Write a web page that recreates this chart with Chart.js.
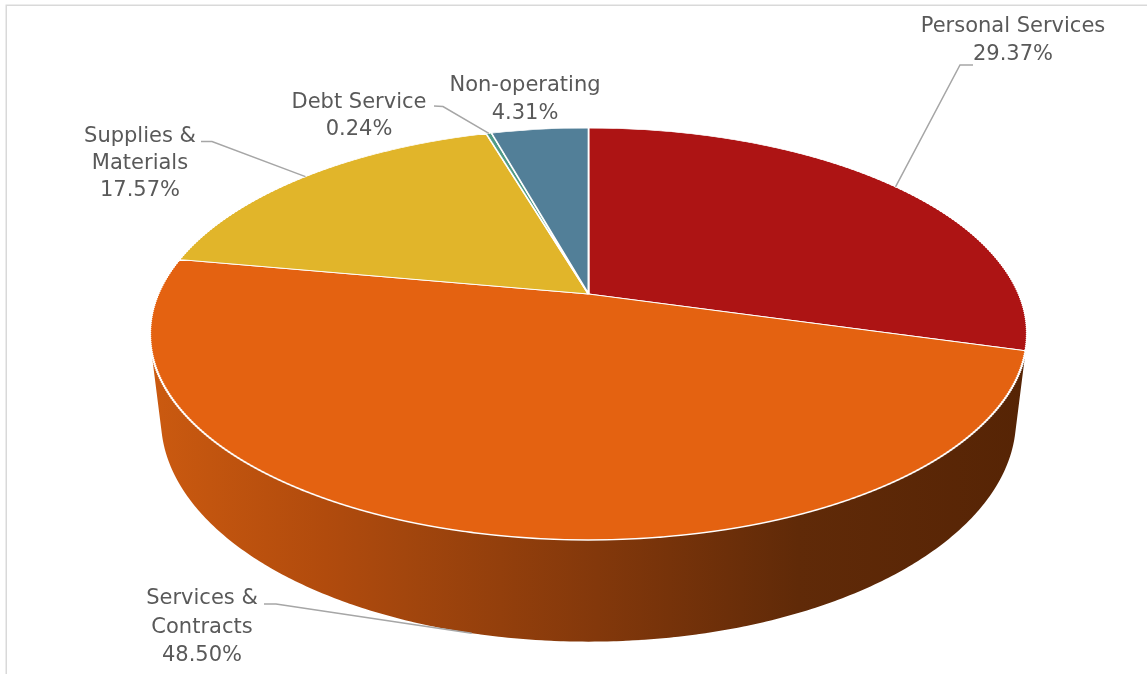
<!DOCTYPE html>
<html>
<head>
<meta charset="utf-8">
<script src="https://cdn.jsdelivr.net/npm/chart.js@4.4.0/dist/chart.umd.min.js"></script>
<style>
  html, body { margin: 0; padding: 0; background: #ffffff; overflow: hidden; }
  canvas { display: block; }
</style>
</head>
<body>
<canvas id="budget" width="1147" height="674"></canvas>
<script>
// Expenditure categories (multi-line labels) and their shares in percent
const categories = [
  ['Personal Services'],
  ['Services &', 'Contracts'],
  ['Supplies &', 'Materials'],
  ['Debt Service'],
  ['Non-operating']
];
const shares = [29.37, 48.50, 17.57, 0.24, 4.31];
const sliceColors = ['#ad1414', '#e46211', '#e1b52a', '#4f9a86', '#527f98'];

// Tilted-disc view: screen y = (alpha*t + beta) / (1 + gamma*t), x scaled by 1/(1 + gamma*t)
const VIEW = { cx: 588.5, alpha: 141.15, beta: 294, gamma: -0.194, k: 430.2, depth: 82, baseShrink: 0.975 };
const PIE_RADIUS = 430;

// Label placement: centre x, first baseline, line height, leader stub
const labelLayout = [
  { x: 1013, y: 32,  lh: 28,   stub: [973, 65, 960, 65] },
  { x: 202,  y: 604, lh: 28.5, stub: [264, 604, 276, 604], onSide: true },
  { x: 140,  y: 142, lh: 27,   stub: [201, 141.5, 212, 141.5] },
  { x: 359,  y: 108, lh: 27,   stub: [434, 106, 443, 106.5] },
  { x: 525,  y: 91,  lh: 27.5, stub: null }
];

function project(s, t, h) {
  const den = 1 + VIEW.gamma * t;
  const shrink = h > 0 ? 1 - (1 - VIEW.baseShrink) * (h / VIEW.depth) : 1;
  return {
    x: VIEW.cx + shrink * VIEW.k * s / den,
    y: (VIEW.alpha * t + VIEW.beta) / den + h / den
  };
}

const tiltedPie = {
  id: 'tiltedPie',
  beforeDraw(chart) {
    const ctx = chart.ctx;
    ctx.save();
    ctx.strokeStyle = '#d9d9d9';
    ctx.lineWidth = 1.5;
    ctx.strokeRect(6.25, 5.25, 1300, 800);
    ctx.restore();
  },
  beforeDatasetsDraw(chart) {
    const ctx = chart.ctx;
    const meta = chart.getDatasetMeta(0);
    const dpr = chart.currentDevicePixelRatio || 1;

    // Cylinder wall under the visible front of each slice
    const grad = ctx.createLinearGradient(150, 0, 1027, 0);
    grad.addColorStop(0, '#cb5a10');
    grad.addColorStop(0.2, '#b14b0d');
    grad.addColorStop(0.29, '#a3460d');
    grad.addColorStop(0.51, '#83380b');
    grad.addColorStop(0.74, '#602a08');
    grad.addColorStop(1, '#562405');
    ctx.save();
    ctx.fillStyle = grad;
    ctx.beginPath();
    meta.data.forEach(arc => {
      const lo = Math.max(arc.startAngle, -0.4);
      const hi = Math.min(arc.endAngle, Math.PI + 0.4);
      if (hi <= lo) return;
      const step = 0.006;
      for (let a0 = lo; a0 < hi; a0 += step) {
        const a1 = Math.min(hi, a0 + step * 2);
        const quad = [
          project(Math.cos(a0), Math.sin(a0), 0),
          project(Math.cos(a1), Math.sin(a1), 0),
          project(Math.cos(a1), Math.sin(a1), VIEW.depth),
          project(Math.cos(a0), Math.sin(a0), VIEW.depth)
        ];
        // keep every quad wound the same way so the union has no holes
        let area = 0;
        for (let i = 0; i < 4; i++) {
          const p = quad[i], q = quad[(i + 1) % 4];
          area += p.x * q.y - q.x * p.y;
        }
        if (area < 0) quad.reverse();
        ctx.moveTo(quad[0].x, quad[0].y);
        for (let i = 1; i < 4; i++) ctx.lineTo(quad[i].x, quad[i].y);
        ctx.closePath();
      }
    });
    ctx.fill('nonzero');
    ctx.restore();

    // Top face: slices drawn by the controller in thin horizontal bands,
    // each band with its own local affine view transform
    const first = meta.data[0];
    const ax = first.x, ay = first.y, r = first.outerRadius;
    const { alpha, beta, gamma, k, cx } = VIEW;
    const yTop = Math.floor((beta - alpha) / (1 - gamma)) - 2;
    const yBot = Math.ceil((beta + alpha) / (1 + gamma)) + 2;
    const band = 2;
    for (let y0 = yTop; y0 < yBot; y0 += band) {
      const ym = y0 + band / 2;
      const tm = (ym - beta) / (alpha - gamma * ym);
      const den = 1 + gamma * tm;
      const a = k / (r * den);
      const dPrime = (alpha - gamma * beta) / (den * den);
      const d = dPrime / r;
      const e = cx - a * ax;
      const f = ym - dPrime * tm - d * ay;
      ctx.save();
      ctx.beginPath();
      ctx.rect(0, y0, chart.width, band);
      ctx.clip();
      ctx.setTransform(a * dpr, 0, 0, d * dpr, e * dpr, f * dpr);
      meta.controller.draw();
      ctx.restore();
    }
    return false;
  },
  afterDraw(chart) {
    const ctx = chart.ctx;
    const meta = chart.getDatasetMeta(0);
    ctx.save();
    meta.data.forEach((arc, i) => {
      const lay = labelLayout[i];
      if (lay.stub) {
        const mid = (arc.startAngle + arc.endAngle) / 2;
        const p = project(Math.cos(mid), Math.sin(mid), lay.onSide ? VIEW.depth : 0);
        ctx.strokeStyle = '#a6a6a6';
        ctx.lineWidth = 1.5;
        ctx.beginPath();
        ctx.moveTo(lay.stub[0], lay.stub[1]);
        ctx.lineTo(lay.stub[2], lay.stub[3]);
        ctx.lineTo(p.x, p.y);
        ctx.stroke();
      }
      const lines = chart.data.labels[i].concat([shares[i].toFixed(2) + '%']);
      ctx.fillStyle = '#595959';
      ctx.font = '21px "DejaVu Sans"';
      ctx.textAlign = 'center';
      ctx.textBaseline = 'alphabetic';
      lines.forEach((txt, j) => ctx.fillText(txt, lay.x, lay.y + j * lay.lh));
    });
    ctx.restore();
  }
};

new Chart(document.getElementById('budget'), {
  type: 'pie',
  data: {
    labels: categories,
    datasets: [{
      data: shares,
      backgroundColor: sliceColors,
      borderColor: '#ffffff',
      borderWidth: 2,
      radius: PIE_RADIUS
    }]
  },
  options: {
    responsive: false,
    animation: false,
    events: [],
    radius: PIE_RADIUS,
    layout: { padding: 0 },
    plugins: {
      legend: { display: false },
      tooltip: { enabled: false }
    }
  },
  plugins: [tiltedPie]
});
</script>
</body>
</html>
